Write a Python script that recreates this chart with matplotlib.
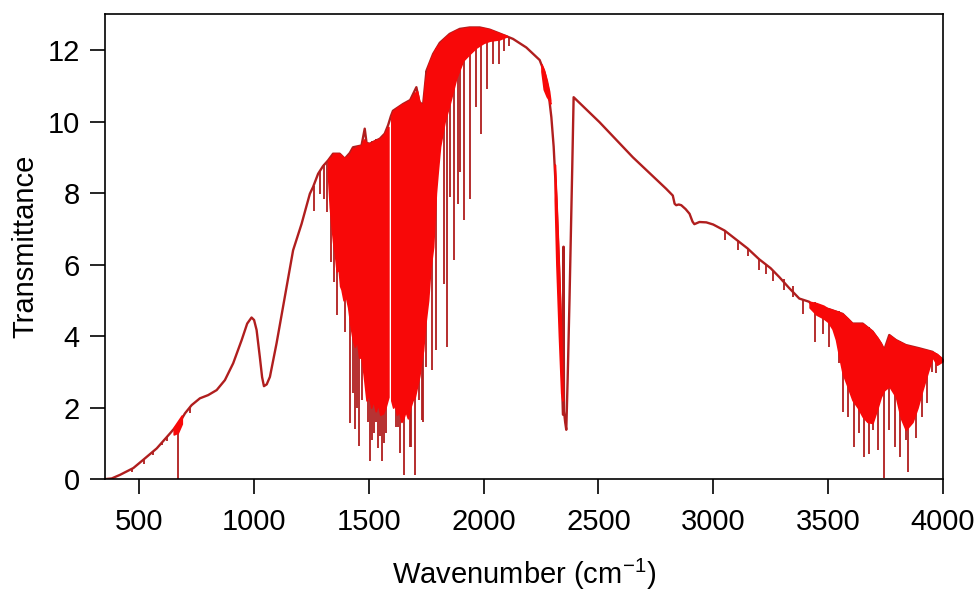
import numpy as np
import matplotlib
matplotlib.use('Agg')
import matplotlib.pyplot as plt

plt.rcParams['font.family'] = ['Liberation Sans', 'DejaVu Sans']
plt.rcParams['mathtext.default'] = 'regular'

# smooth outline of the spectrum (wavenumber, transmittance)
env_wn = [350, 380, 416, 474, 517, 576, 634, 650, 668, 699, 728, 764, 800, 837,
          873, 909, 946, 970, 989, 1000, 1011, 1025, 1035, 1043, 1055, 1069, 1098,
          1134, 1170, 1207, 1243, 1257, 1279, 1300, 1322, 1344, 1373, 1395, 1417,
          1431, 1468, 1482, 1490, 1504, 1548, 1569, 1584, 1596, 1605, 1649, 1680,
          1707, 1720, 1736, 1751, 1780, 1809, 1852, 1896, 1939, 1983, 2026, 2070,
          2128, 2186, 2244, 2266, 2280, 2295, 2305, 2317, 2328, 2338, 2344, 2346,
          2348, 2350, 2355, 2360, 2366, 2374, 2386, 2392, 2505, 2650, 2795, 2824,
          2832, 2839, 2850, 2861, 2880, 2897, 2910, 2918, 2940, 2970, 3000, 3050,
          3100, 3150, 3200, 3250, 3288, 3330, 3375, 3418, 3433, 3506, 3564, 3607,
          3651, 3694, 3730, 3745, 3767, 3796, 3839, 3897, 3955, 4000]
env_t = [0.0, 0.02, 0.12, 0.31, 0.54, 0.86, 1.28, 1.40, 1.50, 1.84, 2.07, 2.26, 2.35, 2.49,
         2.77, 3.24, 3.89, 4.35, 4.52, 4.45, 4.17, 3.42, 2.85, 2.60, 2.65, 2.86, 3.80,
         5.10, 6.40, 7.14, 7.98, 8.17, 8.54, 8.75, 8.91, 9.10, 9.10, 8.96, 9.12,
         9.28, 9.33, 9.80, 9.40, 9.38, 9.52, 9.66, 9.90, 10.15, 10.30, 10.49, 10.60,
         10.96, 10.55, 10.45, 11.42, 11.89, 12.20, 12.45, 12.59, 12.63, 12.63, 12.57, 12.46,
         12.31, 12.07, 11.72, 11.35, 10.95, 10.12, 9.30, 7.80, 5.93, 4.07, 2.20, 1.80,
         6.50, 1.90, 1.60, 1.38, 2.80, 5.00, 8.72, 10.68, 9.98, 9.00, 8.12, 7.93,
         7.70, 7.66, 7.68, 7.66, 7.55, 7.42, 7.20, 7.13, 7.19, 7.18, 7.12, 6.95,
         6.70, 6.45, 6.15, 5.90, 5.65, 5.35, 5.05, 4.96, 4.85, 4.75, 4.62, 4.35,
         4.35, 4.13, 3.80, 3.61, 4.03, 3.89, 3.75, 3.66, 3.56, 3.35]

# dense absorption bands (solid looking parts): wavenumber, top, bottom
band_a_wn = [1322, 1330, 1337, 1345, 1352, 1360, 1368, 1375, 1381, 1390, 1400, 1410,
             1420, 1430, 1439, 1448, 1458, 1468, 1478, 1490, 1500, 1510, 1520, 1530,
             1540, 1550, 1562, 1572, 1585]
band_a_top = [8.91, 8.98, 9.00, 9.10, 9.10, 9.10, 9.10, 9.08, 9.05, 8.98, 9.00, 9.05,
              9.12, 9.25, 9.25, 9.30, 9.32, 9.33, 9.50, 9.40, 9.38, 9.40, 9.45, 9.47,
              9.50, 9.53, 9.60, 9.70, 9.85]
band_a_bot = [8.50, 7.60, 7.10, 6.60, 6.30, 5.80, 5.90, 5.40, 5.30, 5.00, 5.10, 4.80,
              4.30, 3.90, 3.70, 3.90, 3.40, 3.40, 2.90, 2.20, 2.40, 2.00, 2.20, 1.90,
              2.10, 1.80, 1.84, 2.00, 2.30]

band_b_wn = [1598, 1606, 1614, 1622, 1632, 1642, 1650, 1660, 1670, 1680, 1690, 1700,
             1710, 1720, 1728, 1736, 1745, 1758, 1768, 1780, 1792, 1800, 1810, 1830,
             1852, 1880, 1910, 1940, 1968, 2000, 2026, 2070, 2100]
band_b_top = [10.15, 10.30, 10.32, 10.38, 10.42, 10.47, 10.49, 10.52, 10.56, 10.60, 10.70, 10.80,
              10.85, 10.55, 10.50, 10.45, 11.10, 11.55, 11.72, 11.89, 12.05, 12.12, 12.20, 12.33,
              12.45, 12.55, 12.60, 12.63, 12.63, 12.61, 12.57, 12.46, 12.40]
band_b_bot = [2.20, 2.00, 2.10, 1.80, 1.90, 1.60, 1.70, 1.90, 1.70, 2.00, 2.20, 2.30,
              2.60, 2.90, 3.30, 3.60, 4.30, 5.00, 5.90, 6.50, 8.00, 8.60, 9.30, 10.00,
              10.50, 11.20, 11.70, 11.90, 12.07, 12.20, 12.26, 12.30, 12.38]

band_c_wn = [2252, 2262, 2275, 2285, 2290]
band_c_top = [11.60, 11.45, 11.15, 10.85, 10.60]
band_c_bot = [11.40, 10.90, 10.70, 10.60, 10.50]

band_d_wn = [650, 668, 685]
band_d_top = [1.45, 1.62, 1.78]
band_d_bot = [1.25, 1.30, 1.55]

band_e_wn = [3420, 3450, 3480, 3500, 3520, 3535, 3550, 3564, 3585, 3607, 3630, 3651,
             3672, 3694, 3716, 3730, 3745, 3767, 3796, 3818, 3839, 3868, 3890, 3911,
             3935, 3955, 3975, 4000]
band_e_top = [4.96, 4.92, 4.85, 4.77, 4.73, 4.70, 4.66, 4.62, 4.50, 4.35, 4.35, 4.35,
              4.25, 4.13, 3.95, 3.80, 3.61, 4.03, 3.89, 3.82, 3.75, 3.70, 3.67, 3.63,
              3.60, 3.56, 3.50, 3.35]
band_e_bot = [4.80, 4.60, 4.50, 4.40, 4.20, 3.90, 3.40, 2.96, 2.60, 2.21, 2.00, 1.75,
              1.60, 1.57, 2.00, 2.30, 2.49, 2.60, 2.30, 1.70, 1.38, 1.60, 2.00, 2.49,
              3.00, 3.42, 3.20, 3.30]

# steep left flank of the CO2 band around 2350
band_f_wn = [2310, 2317, 2328, 2338, 2343]
band_f_top = [8.80, 7.80, 5.93, 4.07, 2.60]
band_f_bot = [7.80, 6.00, 4.00, 2.40, 2.20]

# single absorption lines: wavenumber, bottom, top
dip_wn = [470, 520, 560, 600, 620, 668, 720,
          1260, 1286, 1305, 1318,
          1337, 1350, 1363, 1378, 1395, 1419, 1430, 1439, 1447, 1456, 1470, 1486,
          1495, 1505, 1515, 1523, 1532, 1540, 1550, 1559, 1567, 1575,
          1617, 1627, 1635, 1653, 1666, 1678, 1685, 1700, 1717, 1733, 1736, 1751,
          1773, 1791, 1826, 1841, 1852, 1870, 1888, 1896, 1914, 1939, 1965, 1990,
          2016, 2041, 2065, 2090, 2110,
          3050, 3110, 3150, 3200, 3230, 3260, 3310, 3346, 3390, 3442, 3477, 3506,
          3546, 3564, 3586, 3615, 3637, 3658, 3677, 3694, 3716, 3743, 3767, 3793,
          3814, 3839, 3850, 3882, 3911, 3930, 3955, 3969]
dip_lo = [0.20, 0.42, 0.68, 0.95, 1.08, 0.00, 1.85,
          7.51, 7.98, 7.84, 7.47,
          6.07, 5.50, 4.59, 5.47, 4.12, 1.58, 2.40, 1.40, 2.00, 0.93, 2.20, 2.49,
          1.60, 0.50, 1.10, 1.30, 1.60, 0.86, 1.20, 0.50, 1.00, 1.28,
          1.47, 1.47, 0.73, 0.12, 2.12, 0.91, 0.91, 0.12, 2.21, 1.66, 1.61, 3.14,
          3.05, 3.61, 5.47, 3.70, 7.90, 6.12, 7.70, 8.60, 7.24, 7.84, 10.40, 9.66,
          10.91, 11.61, 11.61, 11.98, 12.12,
          6.70, 6.40, 6.25, 5.85, 5.75, 5.55, 5.28, 5.10, 4.63, 3.84, 4.07, 3.70,
          3.24, 1.88, 1.75, 0.91, 1.28, 0.63, 0.70, 1.38, 0.82, 0.03, 1.38, 0.91,
          0.63, 1.10, 0.19, 1.14, 1.75, 2.12, 3.00, 2.96]
dip_hi = [0.30, 0.54, 0.80, 1.05, 1.20, 1.50, 2.00,
          8.20, 8.63, 8.80, 8.90,
          9.00, 9.10, 9.10, 9.05, 8.96, 9.12, 9.20, 9.25, 9.30, 9.33, 9.35, 9.40,
          9.40, 9.38, 9.45, 9.45, 9.50, 9.50, 9.55, 9.60, 9.65, 9.70,
          10.30, 10.35, 10.40, 10.49, 10.55, 10.60, 10.60, 10.80, 10.55, 10.45, 10.45, 11.42,
          11.80, 12.05, 12.30, 12.35, 12.45, 12.50, 12.55, 12.59, 12.60, 12.63, 12.63, 12.63,
          12.58, 12.52, 12.46, 12.40, 12.35,
          6.95, 6.68, 6.45, 6.15, 6.00, 5.85, 5.60, 5.40, 5.05, 4.94, 4.80, 4.75,
          4.70, 4.62, 4.50, 4.38, 4.35, 4.35, 4.25, 4.13, 3.95, 3.70, 4.03, 3.89,
          3.85, 3.75, 3.73, 3.68, 3.63, 3.60, 3.56, 3.54]

line_col = '#b01e1e'
fill_col = '#f80808'

fig = plt.figure(figsize=(9.8, 5.93), dpi=100)
ax = fig.add_axes([0.107, 0.192, 0.855, 0.784])

ax.plot(env_wn, env_t, color=line_col, lw=1.7, zorder=1, solid_joinstyle='round')
ax.vlines(dip_wn, dip_lo, dip_hi, color=line_col, lw=1.3, zorder=1)

bands = [(band_a_wn, band_a_top, band_a_bot), (band_b_wn, band_b_top, band_b_bot),
         (band_c_wn, band_c_top, band_c_bot), (band_d_wn, band_d_top, band_d_bot),
         (band_e_wn, band_e_top, band_e_bot), (band_f_wn, band_f_top, band_f_bot)]
for wn, top, bot in bands:
    ax.fill_between(wn, bot, top, facecolor=fill_col, edgecolor=fill_col, lw=1.2, zorder=2)

ax.set_xlim(350, 4000)
ax.set_ylim(0, 13)
ax.set_xticks(np.arange(500, 4001, 500))
ax.set_yticks(np.arange(0, 13, 2))

for s in ax.spines.values():
    s.set_linewidth(1.2)
ax.tick_params(direction='out', length=11, width=1.2, labelsize=21, colors='black')
ax.tick_params(axis='x', pad=9.5)
ax.tick_params(axis='y', pad=7)

ax.set_xlabel('Wavenumber (cm$^{-1}$)', fontsize=21, labelpad=15)
ax.set_ylabel('Transmittance', fontsize=21, labelpad=6)

fig.savefig('out.png', dpi=100)
